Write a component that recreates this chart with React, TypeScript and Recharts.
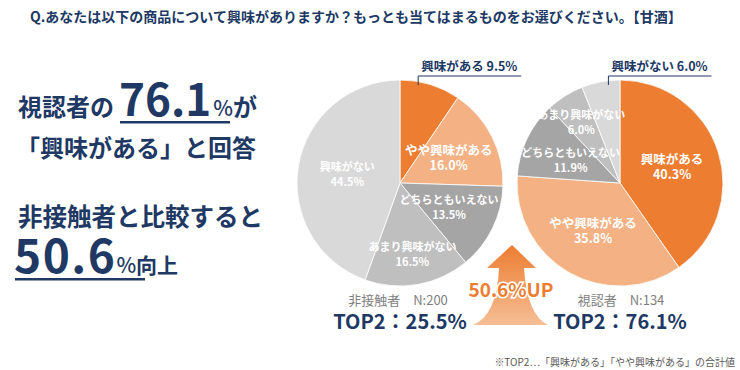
import { PieChart, Pie, Cell } from "recharts";

const categories = ["興味がある", "やや興味がある", "どちらともいえない", "あまり興味がない", "興味がない"];
const nonContactValues = [9.5, 16.0, 13.5, 16.5, 44.5];
const viewerValues = [40.3, 35.8, 11.9, 6.0, 6.0];
const groupLabels = ["非接触者　N:200", "視認者　N:134"];
const top2Labels = ["TOP2：25.5%", "TOP2：76.1%"];
const liftLabel = "50.6%UP";
const title = "Q.あなたは以下の商品について興味がありますか？もっとも当てはまるものをお選びください。【甘酒】";
const footnote = "※TOP2…「興味がある」「やや興味がある」の合計値";

const COLORS = ["#ED7D31", "#F4B183", "#A5A5A5", "#BFBFBF", "#D9D9D9"];
const NAVY = "#203864";
const FONT = '"Noto Sans CJK JP", "Noto Sans", sans-serif';
const RAD = Math.PI / 180;
// label distance from centre, as share of the radius, per slice
const LABEL_R = [0.53, 0.53, 0.53, 0.7, 0.52];

const nonContactData = categories.map((name, i) => ({ name, value: nonContactValues[i] }));
const viewerData = categories.map((name, i) => ({ name, value: viewerValues[i] }));

function makeLabel(calloutIndex: number) {
  return (p: any) => {
    const { cx, cy, midAngle, outerRadius, index, name, value } = p;
    const pct = `${Number(value).toFixed(1)}%`;
    if (index === calloutIndex) {
      const ax = cx + outerRadius * 0.6 * Math.cos(-midAngle * RAD);
      const top = cy - outerRadius;
      return (
        <g>
          <polyline
            points={`${ax},${top + 5} ${ax},${top - 4} ${ax + 103},${top - 4}`}
            fill="none"
            stroke={NAVY}
            strokeWidth={1}
          />
          <text x={ax + 3} y={top - 9} fill={NAVY} fontSize={12.5} fontWeight={700} fontFamily={FONT}>
            {name} {pct}
          </text>
        </g>
      );
    }
    const r = outerRadius * LABEL_R[index];
    const lx = cx + r * Math.cos(-midAngle * RAD);
    const ly = cy + r * Math.sin(-midAngle * RAD);
    const fs = index < 2 ? 12.5 : 11;
    return (
      <text x={lx} y={ly - 3} textAnchor="middle" fill="#fff" fontSize={fs} fontWeight={700} fontFamily={FONT}>
        <tspan x={lx}>{name}</tspan>
        <tspan x={lx} dy={15}>{pct}</tspan>
      </text>
    );
  };
}

export default function App() {
  return (
    <div style={{ position: "absolute", left: 0, top: 0, width: 740, height: 370, background: "#fff", fontFamily: FONT }}>
      <PieChart width={740} height={370} margin={{ top: 0, right: 0, bottom: 0, left: 0 }}>
        <Pie
          data={nonContactData}
          dataKey="value"
          nameKey="name"
          cx={400}
          cy={183}
          outerRadius={103}
          startAngle={90}
          endAngle={-270}
          stroke="#fff"
          strokeWidth={0.8}
          label={makeLabel(0)}
          labelLine={false}
          isAnimationActive={false}
        >
          {nonContactData.map((d, i) => (
            <Cell key={d.name} fill={COLORS[i]} />
          ))}
        </Pie>
        <Pie
          data={viewerData}
          dataKey="value"
          nameKey="name"
          cx={620}
          cy={183}
          outerRadius={103}
          startAngle={90}
          endAngle={-270}
          stroke="#fff"
          strokeWidth={0.8}
          label={makeLabel(4)}
          labelLine={false}
          isAnimationActive={false}
        >
          {viewerData.map((d, i) => (
            <Cell key={d.name} fill={COLORS[i]} />
          ))}
        </Pie>
      </PieChart>

      <svg width={740} height={370} style={{ position: "absolute", left: 0, top: 0, pointerEvents: "none" }}>
        <defs>
          <linearGradient id="upGrad" x1="0" y1="0" x2="0" y2="1">
            <stop offset="0%" stopColor="#ED7D31" />
            <stop offset="100%" stopColor="#F6BE95" />
          </linearGradient>
        </defs>
        <text x={30} y={22} fill={NAVY} fontSize={14} fontWeight={700} fontFamily={FONT}>
          {title}
        </text>

        {/* headline copy */}
        <text x={18} y={116} fill={NAVY} fontWeight={700} fontFamily={FONT}>
          <tspan fontSize={24}>視認者の</tspan>
          <tspan fontSize={44} dx={5}>76.1</tspan>
          <tspan fontSize={21} fontWeight={500} dx={2}>%</tspan>
          <tspan fontSize={24}>が</tspan>
        </text>
        <rect x={120} y={121} width={110} height={2.5} fill={NAVY} />
        <text x={16} y={157} fill={NAVY} fontSize={24} fontWeight={700} fontFamily={FONT}>
          「興味がある」と回答
        </text>
        <text x={18} y={226} fill={NAVY} fontSize={24.5} fontWeight={700} fontFamily={FONT}>
          非接触者と比較すると
        </text>
        <text x={14} y={273} fill={NAVY} fontWeight={700} fontFamily={FONT}>
          <tspan fontSize={46} letterSpacing={1.5}>50.6</tspan>
          <tspan fontSize={21} fontWeight={500}>%</tspan>
          <tspan fontSize={21}>向上</tspan>
        </text>
        <rect x={15} y={278} width={130} height={2.5} fill={NAVY} />

        {/* up arrow */}
        <path
          d="M512,245 L536,268 L524,268 Q527,315 548,325 L473,325 Q497,315 499,268 L487,268 Z"
          fill="url(#upGrad)"
        />
        <text
          x={511}
          y={297}
          textAnchor="middle"
          fill="#ED7D31"
          stroke="#fff"
          strokeWidth={3}
          paintOrder="stroke"
          fontSize={19}
          fontWeight={700}
          fontFamily={FONT}
        >
          {liftLabel}
        </text>

        {/* group captions */}
        <text x={398} y={305} textAnchor="middle" fill="#7F7F7F" fontSize={13} fontFamily={FONT}>
          {groupLabels[0]}
        </text>
        <text x={400} y={329} textAnchor="middle" fill={NAVY} fontSize={20} fontWeight={700} fontFamily={FONT}>
          {top2Labels[0]}
        </text>
        <text x={621} y={305} textAnchor="middle" fill="#7F7F7F" fontSize={13} fontFamily={FONT}>
          {groupLabels[1]}
        </text>
        <text x={620} y={329} textAnchor="middle" fill={NAVY} fontSize={20} fontWeight={700} fontFamily={FONT}>
          {top2Labels[1]}
        </text>

        <text x={735} y={366} textAnchor="end" fill="#595959" fontSize={10} fontFamily={FONT}>
          {footnote}
        </text>
      </svg>
    </div>
  );
}
